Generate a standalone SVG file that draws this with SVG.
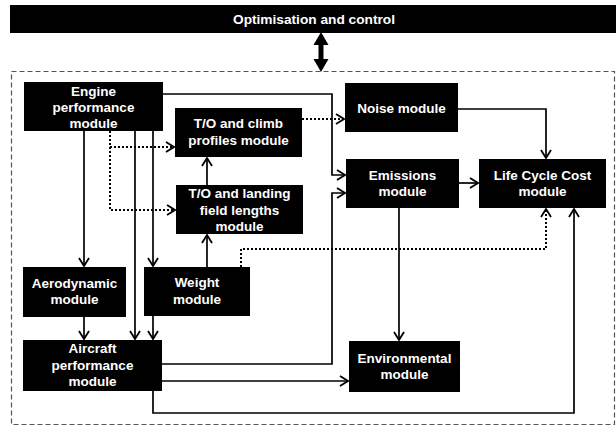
<svg xmlns="http://www.w3.org/2000/svg" width="616" height="427" viewBox="0 0 616 427">
  <style>
    .box { fill: #000; }
    .lbl { font-family: "Liberation Sans", Arial, sans-serif; font-weight: bold; font-size: 13.5px; fill: #fff; text-anchor: middle; }
    .title { font-family: "Liberation Sans", Arial, sans-serif; font-weight: bold; font-size: 13.7px; fill: #fff; text-anchor: middle; }
    .wire { fill: none; stroke: #000; stroke-width: 1.7; }
    .dot { fill: none; stroke: #000; stroke-width: 2; stroke-dasharray: 2 2; }
    .frame { fill: none; stroke: #555; stroke-width: 1.2; stroke-dasharray: 5 3; }
  </style>
  <defs>
    <marker id="arr" viewBox="0 0 10 12" refX="9" refY="6" markerWidth="10" markerHeight="12" markerUnits="userSpaceOnUse" orient="auto">
      <path d="M1,1 L9,6 L1,11" fill="none" stroke="#000" stroke-width="1.8"/>
    </marker>
  </defs>

  <rect width="616" height="427" fill="#fff"/>

  <!-- top control bar -->
  <g id="optimisation">
    <rect class="box" x="10" y="5" width="606" height="28"/>
    <text class="title" x="314" y="24">Optimisation and control</text>
  </g>

  <!-- two-way link between control bar and module frame -->
  <g id="link">
    <line x1="321" y1="44" x2="321" y2="60" stroke="#000" stroke-width="5"/>
    <polygon points="321,32 313.5,45 328.5,45" fill="#000"/>
    <polygon points="321,72 313.5,59 328.5,59" fill="#000"/>
  </g>

  <!-- module frame -->
  <rect class="frame" x="11.5" y="71.5" width="603" height="353"/>

  <g id="connectors">
    <!-- engine to emissions -->
    <path class="wire" d="M163,94 H332 V175 H345" marker-end="url(#arr)"/>
    <!-- engine to aerodynamic / aircraft / weight -->
    <path class="wire" d="M84,131 V266" marker-end="url(#arr)"/>
    <path class="wire" d="M135,131 V339" marker-end="url(#arr)"/>
    <path class="wire" d="M153,131 V266" marker-end="url(#arr)"/>
    <!-- aerodynamic / weight to aircraft -->
    <path class="wire" d="M84,317 V339" marker-end="url(#arr)"/>
    <path class="wire" d="M153,316 V339" marker-end="url(#arr)"/>
    <!-- weight up to field lengths, field lengths up to climb -->
    <path class="wire" d="M207,267 V235" marker-end="url(#arr)"/>
    <path class="wire" d="M207,185 V158" marker-end="url(#arr)"/>
    <!-- engine dotted to climb and field lengths -->
    <path class="dot" d="M110,131 V210 H175" marker-end="url(#arr)"/>
    <path class="dot" d="M110,147 H174" marker-end="url(#arr)"/>
    <!-- climb dotted to noise -->
    <path class="dot" d="M302,119 H344" marker-end="url(#arr)"/>
    <!-- weight dotted to life cycle cost -->
    <path class="dot" d="M241,267 V249 H546 V209" marker-end="url(#arr)"/>
    <!-- noise to life cycle cost -->
    <path class="wire" d="M458,109 H546 V158" marker-end="url(#arr)"/>
    <!-- emissions to life cycle cost -->
    <path class="wire" d="M459,183 H478" marker-end="url(#arr)"/>
    <!-- emissions to environmental -->
    <path class="wire" d="M399,208 V340" marker-end="url(#arr)"/>
    <!-- aircraft to emissions -->
    <path class="wire" d="M162,364 H332 V193 H345" marker-end="url(#arr)"/>
    <!-- aircraft to environmental -->
    <path class="wire" d="M162,381 H348" marker-end="url(#arr)"/>
    <!-- aircraft to life cycle cost -->
    <path class="wire" d="M153,391 V413 H574 V209" marker-end="url(#arr)"/>
  </g>

  <g id="engine">
    <rect class="box" x="24" y="82" width="139" height="49"/>
    <text class="lbl" x="93.5" y="96">Engine</text>
    <text class="lbl" x="93.5" y="112">performance</text>
    <text class="lbl" x="93.5" y="128">module</text>
  </g>
  <g id="climb">
    <rect class="box" x="175" y="108" width="127" height="49"/>
    <text class="lbl" x="238.5" y="128">T/O and climb</text>
    <text class="lbl" x="238.5" y="145">profiles module</text>
  </g>
  <g id="fieldlengths">
    <rect class="box" x="176" y="185" width="127" height="49"/>
    <text class="lbl" x="239.5" y="198">T/O and landing</text>
    <text class="lbl" x="239.5" y="214.5">field lengths</text>
    <text class="lbl" x="239.5" y="231">module</text>
  </g>
  <g id="noise">
    <rect class="box" x="345" y="83" width="113" height="49"/>
    <text class="lbl" x="401.5" y="112.5">Noise  module</text>
  </g>
  <g id="emissions">
    <rect class="box" x="346" y="159" width="113" height="49"/>
    <text class="lbl" x="402.5" y="179.5">Emissions</text>
    <text class="lbl" x="402.5" y="196">module</text>
  </g>
  <g id="lifecyclecost">
    <rect class="box" x="479" y="159" width="127" height="49"/>
    <text class="lbl" x="542.5" y="179.5">Life Cycle Cost</text>
    <text class="lbl" x="542.5" y="196">module</text>
  </g>
  <g id="aerodynamic">
    <rect class="box" x="23" y="267" width="103" height="50"/>
    <text class="lbl" x="74.5" y="287.5">Aerodynamic</text>
    <text class="lbl" x="74.5" y="304">module</text>
  </g>
  <g id="weight">
    <rect class="box" x="144" y="267" width="106" height="49"/>
    <text class="lbl" x="197" y="287">Weight</text>
    <text class="lbl" x="197" y="303.5">module</text>
  </g>
  <g id="aircraft">
    <rect class="box" x="23" y="340" width="139" height="51"/>
    <text class="lbl" x="92.5" y="352.5">Aircraft</text>
    <text class="lbl" x="92.5" y="369.5">performance</text>
    <text class="lbl" x="92.5" y="386">module</text>
  </g>
  <g id="environmental">
    <rect class="box" x="349" y="341" width="111" height="51"/>
    <text class="lbl" x="404.5" y="362.5">Environmental</text>
    <text class="lbl" x="404.5" y="379">module</text>
  </g>
</svg>
